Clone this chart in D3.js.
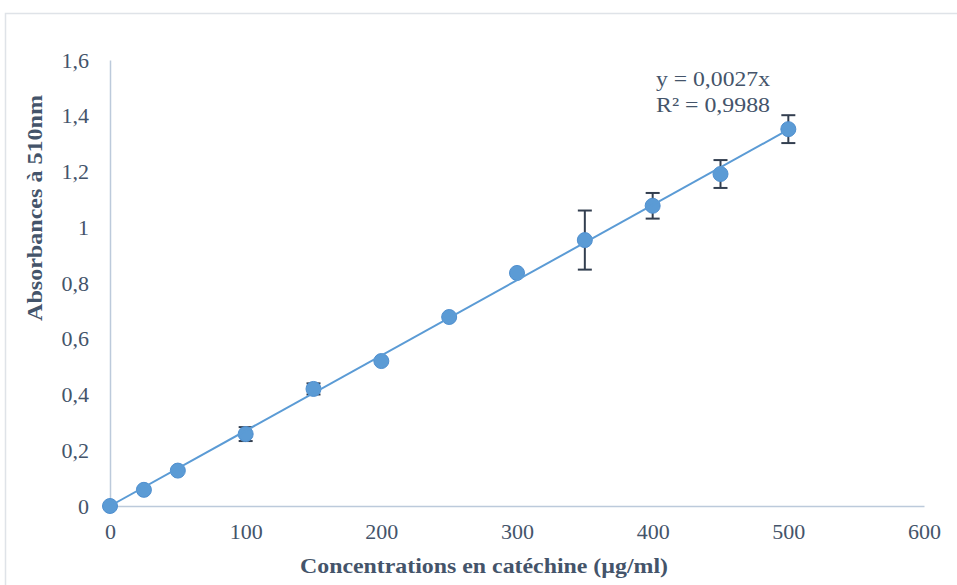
<!DOCTYPE html>
<html>
<head>
<meta charset="utf-8">
<script src="https://cdn.jsdelivr.net/npm/d3@7"></script>
<style>
  html, body { margin: 0; padding: 0; background: #ffffff; }
  svg { display: block; }
  text { font-family: "Liberation Serif", "Times New Roman", serif; fill: #44546a; }
</style>
</head>
<body>
<svg id="chart" width="957" height="585"></svg>
<script>
// Catechin calibration: concentration (µg/ml) vs absorbance at 510 nm
const concentrations = [0, 25, 50, 100, 150, 200, 250, 300, 350, 400, 450, 500];
const absorbances    = [0, 0.058, 0.127, 0.258, 0.42, 0.52, 0.678, 0.836, 0.954, 1.077, 1.191, 1.352];
const errors         = [0, 0, 0, 0.025, 0.02, 0, 0, 0, 0.106, 0.046, 0.05, 0.05];
const xTicks = [0, 100, 200, 300, 400, 500, 600];
const yTicks = [0, 0.2, 0.4, 0.6, 0.8, 1, 1.2, 1.4, 1.6];
const slope = 0.0027;
const rSquared = "0,9988";

const svg = d3.select("#chart");
const comma = v => String(v).replace(".", ",");
const serif = "'Liberation Serif', 'Times New Roman', serif";

// outer chart frame
svg.append("rect")
  .attr("x", 5.5).attr("y", 13.5)
  .attr("width", 1000).attr("height", 1000)
  .attr("fill", "none").attr("stroke", "#dfe3e8").attr("stroke-width", 1.5);

const x = d3.scaleLinear().domain([0, 600]).range([110, 924]);
const y = d3.scaleLinear().domain([0, 1.6]).range([506, 60]);

// axes (lines only, labels without tick marks)
const xAxis = svg.append("g")
  .attr("transform", `translate(0,${y(0)})`)
  .call(d3.axisBottom(x).tickValues(xTicks).tickSize(0).tickPadding(19).tickFormat(d => d));
const yAxis = svg.append("g")
  .attr("transform", `translate(${x(0)},0)`)
  .call(d3.axisLeft(y).tickValues(yTicks).tickSize(0).tickPadding(21).tickFormat(comma));

[xAxis, yAxis].forEach(g => {
  g.attr("font-family", serif).attr("font-size", 22);
  g.select(".domain").attr("stroke", "#bccadb").attr("stroke-width", 1.5);
  g.selectAll("text")
    .style("font-family", serif)
    .style("font-size", "22px")
    .attr("fill", "#44546a");
});
xAxis.selectAll("text").attr("dy", "0.62em");

// axis titles
svg.append("text")
  .attr("x", 484).attr("y", 573)
  .attr("text-anchor", "middle")
  .attr("textLength", 368).attr("lengthAdjust", "spacingAndGlyphs")
  .style("font-size", "22px").style("font-weight", "bold")
  .text("Concentrations en catéchine (µg/ml)");

svg.append("text")
  .attr("transform", "translate(42,208) rotate(-90)")
  .attr("text-anchor", "middle")
  .attr("textLength", 226).attr("lengthAdjust", "spacingAndGlyphs")
  .style("font-size", "22px").style("font-weight", "bold")
  .text("Absorbances à 510nm");

// error bars
const pts = concentrations.map((c, i) => ({ c, a: absorbances[i], e: errors[i] }));
const eb = svg.append("g").attr("stroke", "#333f50").attr("stroke-width", 2);
pts.filter(d => d.e > 0).forEach(d => {
  const cx = x(d.c);
  eb.append("line").attr("x1", cx).attr("x2", cx).attr("y1", y(d.a + d.e)).attr("y2", y(d.a - d.e));
  [d.a + d.e, d.a - d.e].forEach(v => {
    eb.append("line").attr("x1", cx - 7).attr("x2", cx + 7).attr("y1", y(v)).attr("y2", y(v));
  });
});

// markers
svg.append("g").selectAll("circle")
  .data(pts).join("circle")
  .attr("cx", d => x(d.c)).attr("cy", d => y(d.a))
  .attr("r", 7.5)
  .attr("fill", "#5b9bd5").attr("stroke", "#4f8fcf").attr("stroke-width", 1);

// linear trendline through origin
const xMax = d3.max(concentrations);
svg.append("line")
  .attr("x1", x(0)).attr("y1", y(0))
  .attr("x2", x(xMax)).attr("y2", y(slope * xMax))
  .attr("stroke", "#5b9bd5").attr("stroke-width", 2);

// trendline equation
const eq = svg.append("text").style("font-size", "22px");
eq.append("tspan").attr("x", 656).attr("y", 86)
  .attr("textLength", 114).attr("lengthAdjust", "spacingAndGlyphs")
  .text(`y = ${comma(slope)}x`);
eq.append("tspan").attr("x", 656).attr("y", 112)
  .attr("textLength", 114).attr("lengthAdjust", "spacingAndGlyphs")
  .text(`R² = ${rSquared}`);
</script>
</body>
</html>
